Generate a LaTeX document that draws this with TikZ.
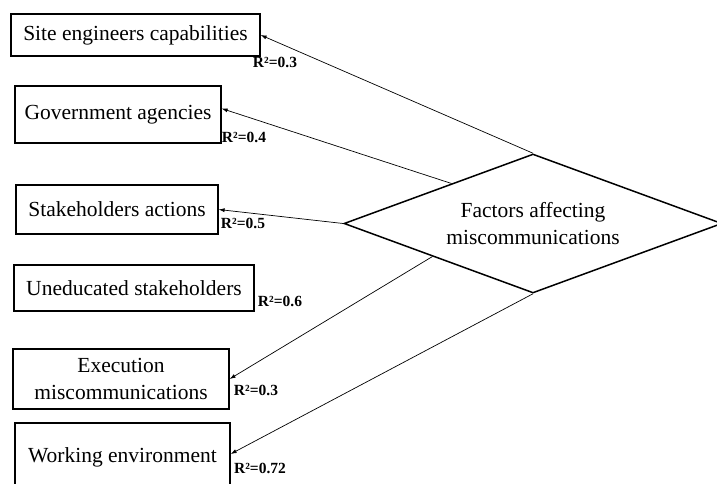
\documentclass[tikz,border=0pt]{standalone}
\usepackage{fontspec}
\setmainfont{Liberation Serif}
\usetikzlibrary{shapes.geometric,arrows.meta,calc}
\begin{document}
\begin{tikzpicture}[x=1pt,y=-1pt,
    factor/.style={draw,line width=1.2pt,inner sep=0pt,align=center,font=\fontsize{21.5}{27}\selectfont},
    rsq/.style={inner sep=0pt,font=\bfseries\fontsize{15.5}{17}\selectfont},
    link/.style={-{Latex[length=6pt,width=4pt]},line width=0.7pt}]
  \useasboundingbox (0,0) rectangle (717,483);
  % observed factors
  \node[factor,minimum width=249pt,minimum height=42pt] (site) at (135.5,35) {Site engineers capabilities};
  \node[factor,minimum width=206pt,minimum height=57pt] (gov) at (118,114.5) {Government agencies};
  \node[factor,minimum width=202pt,minimum height=49pt] (stake) at (117,209.5) {Stakeholders actions};
  \node[factor,minimum width=240pt,minimum height=46pt] (unedu) at (134,288) {Uneducated stakeholders};
  \node[factor,minimum width=216pt,minimum height=60pt] (exec) at (121,379) {Execution\\miscommunications};
  \node[factor,minimum width=215pt,minimum height=68pt] (work) at (122.5,457) {Working environment};
  % latent factor
  \node[factor,diamond,line width=1.5pt,aspect=2.7,minimum width=378pt,minimum height=139pt] (fam) at (533,223.5) {Factors affecting\\miscommunications};
  % loadings
  \node[rsq] (r1) at (275,62) {R²=0.3};
  \node[rsq] (r2) at (244,137) {R²=0.4};
  \node[rsq] (r3) at (243,223) {R²=0.5};
  \node[rsq] (r4) at (280,301) {R²=0.6};
  \node[rsq] (r5) at (256,390) {R²=0.3};
  \node[rsq] (r6) at (260,468) {R²=0.72};
  \draw[link] (fam.north) -- (site.east);
  \draw[link] ($(fam.west)!0.57!(fam.north)$) -- ([yshift=6pt]gov.east);
  \draw[link] (fam.west) -- (stake.east);
  \draw[link] ($(fam.west)!0.47!(fam.south)$) -- (exec.east);
  \draw[link] (fam.south) -- ([yshift=3pt]work.east);
\end{tikzpicture}
\end{document}
